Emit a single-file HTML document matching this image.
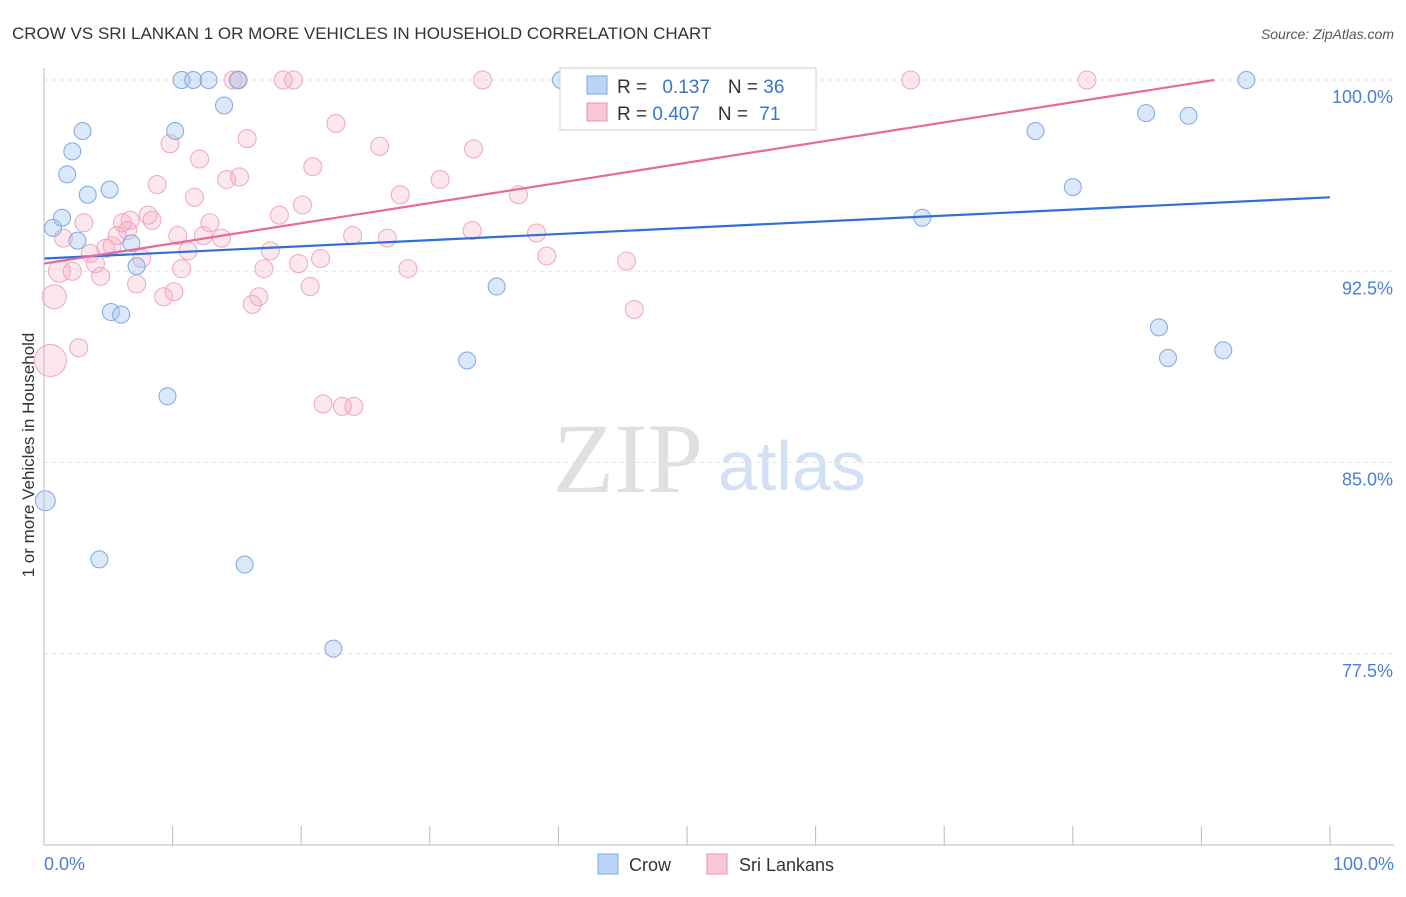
<!DOCTYPE html>
<html><head><meta charset="utf-8"><style>
body{margin:0;background:#fff;font-family:"Liberation Sans",sans-serif}
</style></head><body>
<svg width="1406" height="892" xmlns="http://www.w3.org/2000/svg" id="svg">
<text x="12" y="39" font-size="17" fill="#333">CROW VS SRI LANKAN 1 OR MORE VEHICLES IN HOUSEHOLD CORRELATION CHART</text>
<text x="1394" y="39" font-size="14" fill="#555" text-anchor="end" font-style="italic">Source: ZipAtlas.com</text>
<text x="34" y="455" font-size="17" fill="#333" text-anchor="middle" transform="rotate(-90 34 455)">1 or more Vehicles in Household</text>
<text x="553" y="492" font-size="100" fill="#e0e0e0" font-family="Liberation Serif">ZIP</text>
<text x="718" y="490" font-size="70" fill="#d2e1f3">atlas</text>
<g id="grid"></g><g id="pts"></g><g id="lines"></g>
<line x1="44" y1="68" x2="44" y2="845" stroke="#bbb"/>
<line x1="44" y1="845" x2="1394" y2="845" stroke="#bbb"/>
<text x="44" y="870" font-size="18" fill="#4a7fd4">0.0%</text>
<text x="1394" y="870" font-size="18" fill="#4a7fd4" text-anchor="end">100.0%</text>
<g>
<rect x="560" y="68" width="256" height="62" fill="#fff" stroke="#ccc"/>
<rect x="587" y="76" width="20" height="18" fill="#bcd4f5" stroke="#7aa6e0"/>
<rect x="587" y="103" width="20" height="18" fill="#f9c8d6" stroke="#ec8fad"/>
<text x="617" y="93" font-size="19" fill="#333">R = <tspan fill="#3b74d0" dx="10">0.137</tspan><tspan dx="18" fill="#333">N = </tspan><tspan fill="#3b74d0">36</tspan></text>
<text x="617" y="120" font-size="19" fill="#333">R = <tspan fill="#3b74d0">0.407</tspan><tspan dx="18" fill="#333">N = </tspan><tspan fill="#3b74d0" dx="6">71</tspan></text>
</g>
<g>
<rect x="598" y="854" width="20" height="20" fill="#bcd4f5" stroke="#7aa6e0"/>
<text x="629" y="871" font-size="18" fill="#333">Crow</text>
<rect x="707" y="854" width="20" height="20" fill="#f9c8d6" stroke="#ec8fad"/>
<text x="739" y="871" font-size="18" fill="#333">Sri Lankans</text>
</g>
</svg>
<script>
const yTicks=[100,92.5,85,77.5];
const xTicks=[0,10,20,30,40,50,60,70,80,90,100];
const crowX=[0.7,1.4,2.2,1.8,3.0,3.4,5.1,2.6,6.8,7.2,5.2,6.0,9.6,0.1,4.3,15.6,22.5,10.2,10.7,11.6,12.8,15.1,14.0,32.9,35.2,40.2,56.5,68.3,77.1,80.0,85.7,89.0,93.5,86.7,87.4,91.7];
const crowY=[94.2,94.6,97.2,96.3,98.0,95.5,95.7,93.7,93.6,92.7,90.9,90.8,87.6,83.5,81.2,81.0,77.7,98.0,100,100,100,100,99.0,89.0,91.9,100,100,94.6,98.0,95.8,98.7,98.6,100,90.3,89.1,89.4];
const sriX=[0.5,0.8,1.2,1.5,2.2,2.7,3.1,3.6,4.0,4.4,4.8,5.3,5.7,6.1,6.5,6.7,7.2,7.6,8.1,8.4,8.8,9.3,9.8,10.1,10.4,10.7,11.2,11.7,12.1,12.4,12.9,13.8,14.2,15.2,15.8,16.2,16.7,17.1,17.6,18.3,18.6,19.4,19.8,20.1,20.7,20.9,21.5,21.7,22.7,23.2,24.0,24.1,26.1,26.7,27.7,28.3,30.8,33.4,33.3,34.1,36.9,38.3,39.1,41.6,45.3,45.9,52.3,67.4,81.1,14.7,15.1];
const sriY=[89.0,91.5,92.5,93.8,92.5,89.5,94.4,93.2,92.8,92.3,93.4,93.5,93.9,94.4,94.1,94.5,92.0,93.0,94.7,94.5,95.9,91.5,97.5,91.7,93.9,92.6,93.3,95.4,96.9,93.9,94.4,93.8,96.1,96.2,97.7,91.2,91.5,92.6,93.3,94.7,100,100,92.8,95.1,91.9,96.6,93.0,87.3,98.3,87.2,93.9,87.2,97.4,93.8,95.5,92.6,96.1,97.3,94.1,100,95.5,94.0,93.1,100,92.9,91.0,100,100,100,100,100];
const sriR=[16,12,11,9,9,9,9,9,9,9,9,9,9,9,9,9,9,9,9,9,9,9,9,9,9,9,9,9,9,9,9,9,9,9,9,9,9,9,9,9,9,9,9,9,9,9,9,9,9,9,9,9,9,9,9,9,9,9,9,9,9,9,9,9,9,9,9,9,9,9,9];
const crowTrend=[93.0,95.4];
const sriTrend=[92.8,100,91];
const X=v=>44+v*12.86, Y=v=>80+(100-v)*25.5;
const NS='http://www.w3.org/2000/svg';
function mk(t,a,p){const e=document.createElementNS(NS,t);for(const k in a)e.setAttribute(k,a[k]);document.getElementById(p).appendChild(e);return e;}
yTicks.forEach(v=>{
 const l=mk('line',{x1:44,x2:1394,y1:Y(v),y2:Y(v),stroke:'#e3e3e3','stroke-dasharray':'4 4'},'grid');
 
 
 const t=mk('text',{x:1393,y:Y(v)+23,'font-size':18,fill:'#4a7fd4','text-anchor':'end'},'grid');t.textContent=v.toFixed(1)+'%';
 
 
});
xTicks.forEach(v=>{
 const l=mk('line',{x1:X(v),x2:X(v),y1:826,y2:845,stroke:'#bbb'},'grid');
 
 
});
sriX.forEach((x,i)=>{
 const c=mk('circle',{cx:X(x),cy:Y(sriY[i]),r:sriR[i],fill:'rgba(246,170,195,0.28)',stroke:'#efa6bf','stroke-width':1},'pts');
 
 
});
crowX.forEach((x,i)=>{
 const c=mk('circle',{cx:X(x),cy:Y(crowY[i]),r:x<0.5?10:8.5,fill:'rgba(160,195,240,0.38)',stroke:'#7ea9e2','stroke-width':1},'pts');
 
 
});
const b=mk('line',{x1:X(0),y1:Y(crowTrend[0]),x2:X(100),y2:Y(crowTrend[1]),stroke:'#2f6fd6','stroke-width':2.2},'lines');


const p=mk('line',{x1:X(0),y1:Y(sriTrend[0]),x2:X(sriTrend[2]),y2:Y(sriTrend[1]),stroke:'#e8699a','stroke-width':2.2},'lines');


</script>
</body></html>
